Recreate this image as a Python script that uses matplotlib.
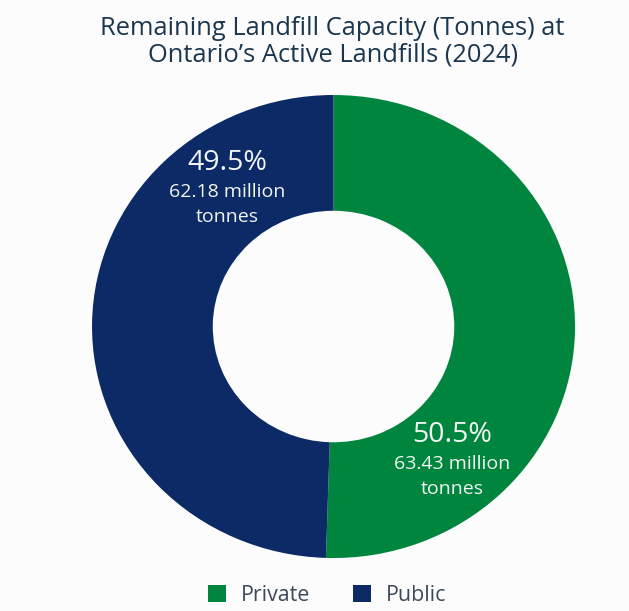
import matplotlib
matplotlib.use("Agg")
import matplotlib.pyplot as plt
from matplotlib.patches import Patch

plt.rcParams['font.family'] = ['Open Sans', 'DejaVu Sans']

labels = ['Private', 'Public']
shares = [50.5, 49.5]
tonnes = [63.43, 62.18]
colors = ['#00853e', '#0b2a66']

fig = plt.figure(figsize=(6.29, 6.11), dpi=100, facecolor='#fcfcfc')
ax = fig.add_axes([0.1463, 0.0867, 0.7679, 0.7578])
ax.set_facecolor('#fcfcfc')

ax.pie(shares, colors=colors, startangle=90, counterclock=False,
       radius=1, wedgeprops=dict(width=0.5, linewidth=0))
ax.set_aspect('auto')
ax.set_xlim(-1, 1)
ax.set_ylim(-1, 1)
ax.axis('off')

# labels inside the ring
label_pos = {'Private': (0.491, -0.469), 'Public': (-0.441, 0.706)}
for name, s, t in zip(labels, shares, tonnes):
    x, y = label_pos[name]
    ax.text(x, y, f"{s}%", ha='center', va='center', color='#f2f5f2', fontsize=20.5)
    ax.text(x, y - 0.125, f"{t} million", ha='center', va='center', color='#f2f5f2', fontsize=14)
    ax.text(x, y - 0.235, "tonnes", ha='center', va='center', color='#f2f5f2', fontsize=14)

fig.text(0.529, 0.932, "Remaining Landfill Capacity (Tonnes) at\nOntario\u2019s Active Landfills (2024)",
         ha='center', va='center', fontsize=18.4, color='#1b3750', linespacing=1.08)

handles = [Patch(facecolor=c, edgecolor='none') for c in colors]
leg = fig.legend(handles, labels, loc='center', bbox_to_anchor=(0.52, 0.026), ncol=2,
                 frameon=False, fontsize=15.4, handlelength=0.85, handleheight=0.85,
                 columnspacing=2.0, handletextpad=0.7)
for txt in leg.get_texts():
    txt.set_color('#3c4a5a')

fig.savefig('out.png', dpi=100, facecolor=fig.get_facecolor())
